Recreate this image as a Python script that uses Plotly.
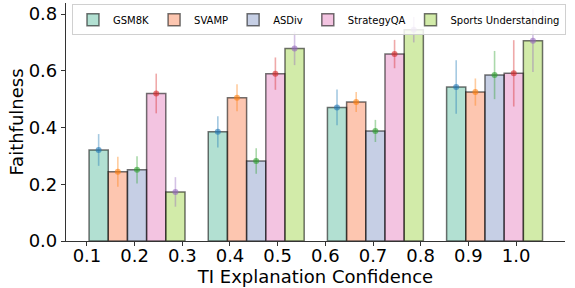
import plotly.graph_objects as go
import numpy as np

series = ["GSM8K", "SVAMP", "ASDiv", "StrategyQA", "Sports Understanding"]
gsm8k = [0.321, 0.385, 0.471, 0.543]
svamp = [0.244, 0.505, 0.490, 0.525]
asdiv = [0.251, 0.282, 0.388, 0.585]
strategyqa = [0.520, 0.590, 0.659, 0.591]
sports = [0.173, 0.679, 0.745, 0.706]

gsm8k_err = [0.056, 0.055, 0.063, 0.094]
svamp_err = [0.053, 0.048, 0.035, 0.048]
asdiv_err = [0.048, 0.045, 0.039, 0.085]
strategyqa_err = [0.070, 0.057, 0.050, 0.117]
sports_err = [0.052, 0.059, 0.045, 0.110]

tick_labels = ["0.1", "0.2", "0.3", "0.4", "0.5", "0.6", "0.7", "0.8", "0.9", "1.0"]

values = [gsm8k, svamp, asdiv, strategyqa, sports]
errors = [gsm8k_err, svamp_err, asdiv_err, strategyqa_err, sports_err]

bar_colors = ["rgba(102,194,165,0.5)", "rgba(252,141,98,0.5)", "rgba(141,160,203,0.5)",
              "rgba(231,138,195,0.5)", "rgba(166,216,84,0.5)"]
err_colors = [(31, 119, 180), (255, 127, 14), (44, 160, 44), (214, 39, 40), (148, 103, 189)]

n_groups = len(gsm8k)
w = 0.161
groups = np.arange(n_groups)

fig = go.Figure()
for j, name in enumerate(series):
    xs = groups + (j - 2) * w
    fig.add_trace(go.Bar(
        x=xs, y=values[j], width=w, name=name,
        marker=dict(color=bar_colors[j], line=dict(color="rgba(0,0,0,0.55)", width=1.5)),
    ))
for j, name in enumerate(series):
    xs = groups + (j - 2) * w
    r, g, b = err_colors[j]
    fig.add_trace(go.Scatter(
        x=xs, y=values[j], mode="markers", showlegend=False,
        marker=dict(color=f"rgba({r},{g},{b},0.6)", size=6),
        error_y=dict(type="data", array=errors[j], color=f"rgba({r},{g},{b},0.4)",
                     thickness=1.6, width=0),
    ))

tickvals = np.linspace(-0.42, 3.18, len(tick_labels))

fig.update_layout(
    width=575, height=288,
    margin=dict(l=66, r=10, t=3, b=47),
    plot_bgcolor="white", paper_bgcolor="white",
    barmode="overlay",
    font=dict(family="DejaVu Sans", color="black"),
    legend=dict(orientation="h", x=0.012, y=0.995, xanchor="left", yanchor="top",
                font=dict(size=10), bgcolor="rgba(255,255,255,0.85)",
                bordercolor="#d0d0d0", borderwidth=1, itemwidth=30),
    xaxis=dict(range=[-0.596, 3.591], tickvals=tickvals, ticktext=tick_labels,
               showline=True, linecolor="#333", linewidth=1.2, ticks="outside",
               ticklen=4, tickcolor="#333", showgrid=False, zeroline=False,
               tickfont=dict(size=18), ticklabelstandoff=-6,
               title=dict(text="TI Explanation Confidence", font=dict(size=18), standoff=0)),
    yaxis=dict(range=[0, 0.839], tickvals=[0, 0.2, 0.4, 0.6, 0.8],
               ticktext=["0.0", "0.2", "0.4", "0.6", "0.8"],
               showline=True, linecolor="#333", linewidth=1.2, ticks="outside",
               ticklen=4, tickcolor="#333", showgrid=False, zeroline=False,
               tickfont=dict(size=18),
               title=dict(text="Faithfulness", font=dict(size=18), standoff=0)),
)

fig.write_html("out.html", config={"displayModeBar": False},
               post_script="document.body.style.margin='0';document.body.style.overflow='hidden';")
